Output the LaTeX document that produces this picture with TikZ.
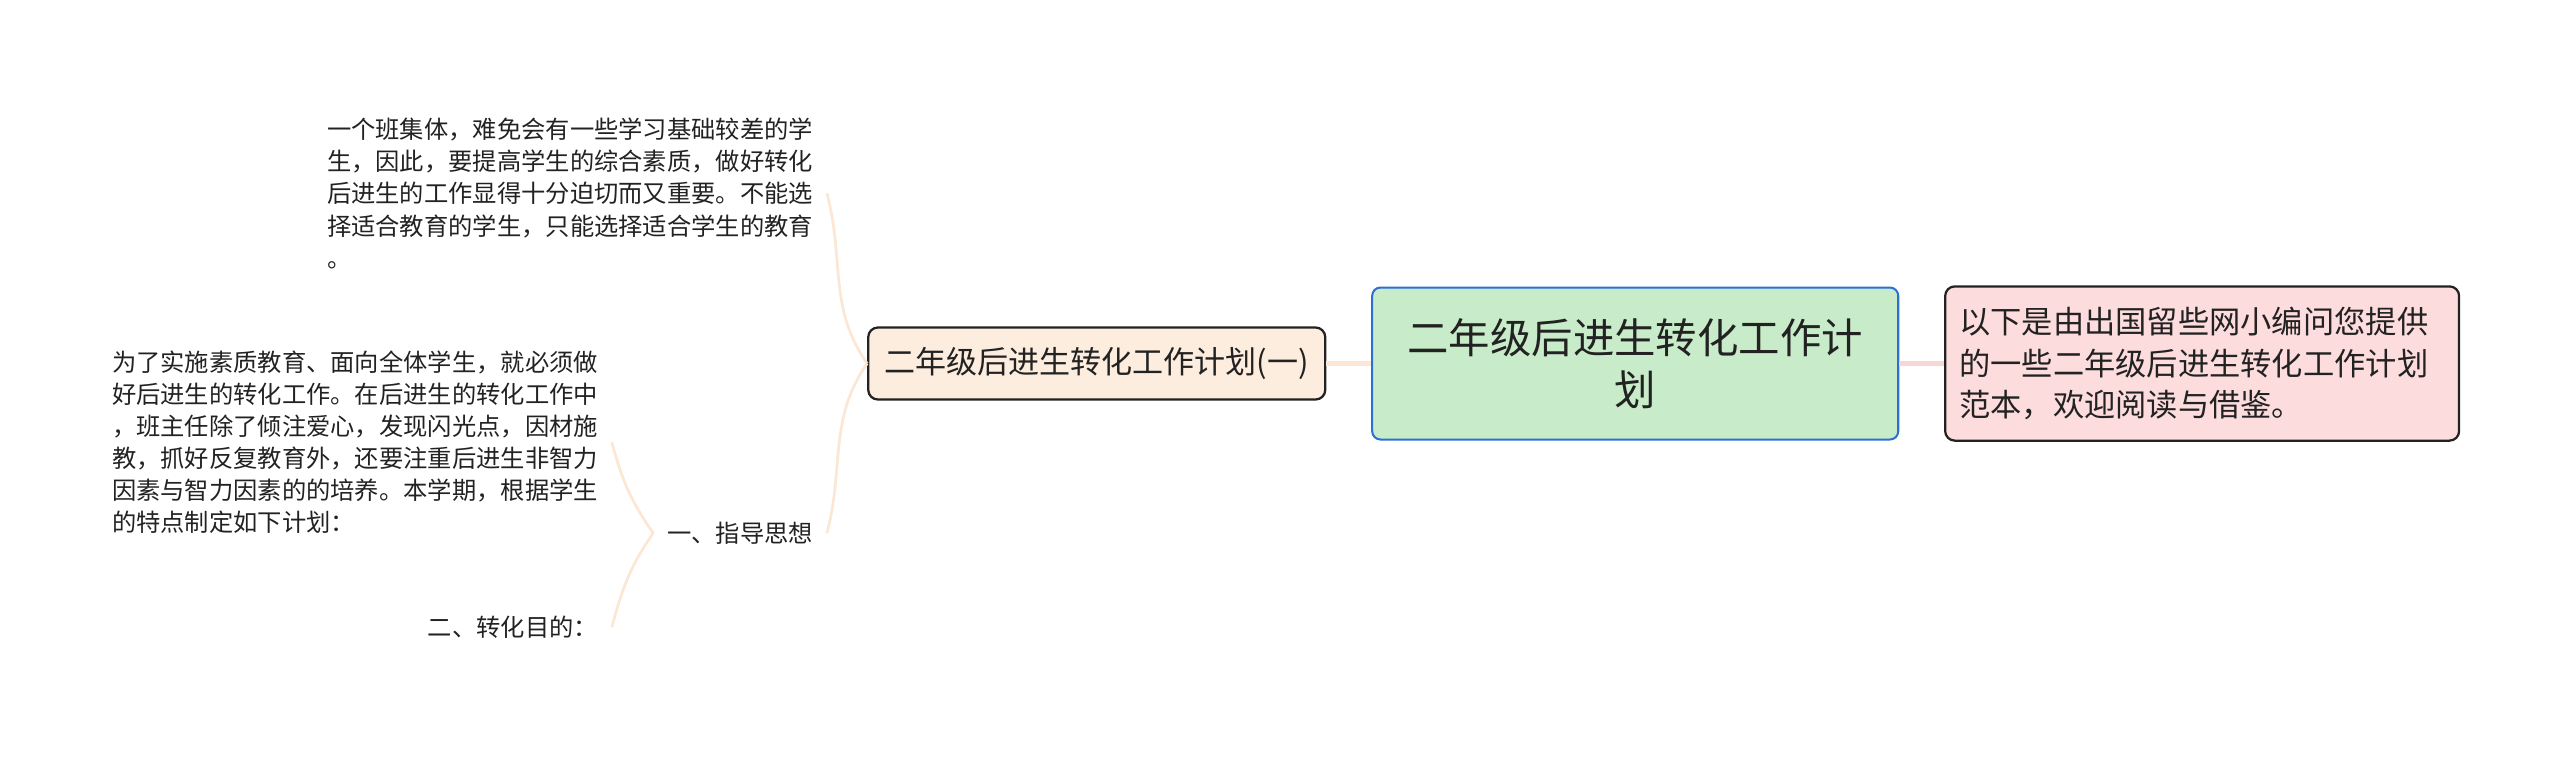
\documentclass[tikz,border=0pt]{standalone}
\usepackage{fontspec}
\setmainfont{Noto Sans CJK SC}
\usepackage{xcolor}
\usetikzlibrary{positioning}
\definecolor{rootgreen}{RGB}{200,236,201}
\definecolor{rootblue}{RGB}{45,110,215}
\definecolor{notepink}{RGB}{252,220,221}
\definecolor{topicpeach}{RGB}{253,237,222}
\definecolor{linkpeach}{RGB}{251,231,212}
\definecolor{linkpink}{RGB}{247,214,214}
\definecolor{inkdark}{RGB}{34,34,34}

\begin{document}
\begin{tikzpicture}[
    node distance=0.7cm,
    rootbox/.style={rectangle, rounded corners=0.13cm, draw=rootblue, line width=0.9pt, fill=rootgreen, text=inkdark, minimum width=8.22cm, minimum height=2.375cm, align=center, font=\fontsize{18.4}{23.1}\selectfont},
    notebox/.style={rectangle, rounded corners=0.15cm, draw=inkdark, line width=1pt, fill=notepink, text=inkdark, text width=7.59cm, inner xsep=0.22cm, minimum height=2.41cm, align=left, font=\fontsize{13.9}{18.5}\selectfont},
    topicbox/.style={rectangle, rounded corners=0.15cm, draw=inkdark, line width=1pt, fill=topicpeach, text=inkdark, minimum width=7.14cm, minimum height=1.125cm, font=\fontsize{13.8}{17}\selectfont},
    leaf/.style={inner xsep=6pt, inner ysep=2pt, align=left, text=inkdark, font=\fontsize{10.8}{14.3}\selectfont},
    link/.style={line width=1.8pt},
    branch/.style={line width=1.2pt, linkpeach}
]
    \useasboundingbox (0, 0) rectangle (40, 11.83);

    % Centre and first level
    \node[rootbox] (root) at (25.55, 6.15) {二年级后进生转化工作计\\划};
    \node[notebox, right=of root] (intro) {以下是由出国留些网小编问您提供\\的一些二年级后进生转化工作计划\\范本，欢迎阅读与借鉴。};
    \node[topicbox, left=of root] (topic) {二年级后进生转化工作计划(一)};

    % Second level
    \node[leaf, anchor=east] (plan1) at (12.92, 8.81) {一个班集体，难免会有一些学习基础较差的学\\生，因此，要提高学生的综合素质，做好转化\\后进生的工作显得十分迫切而又重要。不能选\\择适合教育的学生，只能选择适合学生的教育\\。};
    \node[leaf, anchor=east] (guide) at (12.92, 3.5) {一、指导思想};

    % Third level
    \node[leaf, anchor=east] (guide1) at (9.56, 4.92) {为了实施素质教育、面向全体学生，就必须做\\好后进生的转化工作。在后进生的转化工作中\\，班主任除了倾注爱心，发现闪光点，因材施\\教，抓好反复教育外，还要注重后进生非智力\\因素与智力因素的的培养。本学期，根据学生\\的特点制定如下计划：};
    \node[leaf, anchor=east] (goal) at (9.56, 2.03) {二、转化目的：};

    % Connectors
    \draw[link, linkpeach] (topic) -- (root);
    \draw[link, linkpink] (root) -- (intro);

    \draw[branch] (topic.west) to[out=125, in=-75] (plan1.east);
    \draw[branch] (topic.west) to[out=235, in=75] (guide.east);
    \draw[branch] (guide.west) to[out=125, in=-75] (guide1.east);
    \draw[branch] (guide.west) to[out=235, in=75] (goal.east);
\end{tikzpicture}
\end{document}
